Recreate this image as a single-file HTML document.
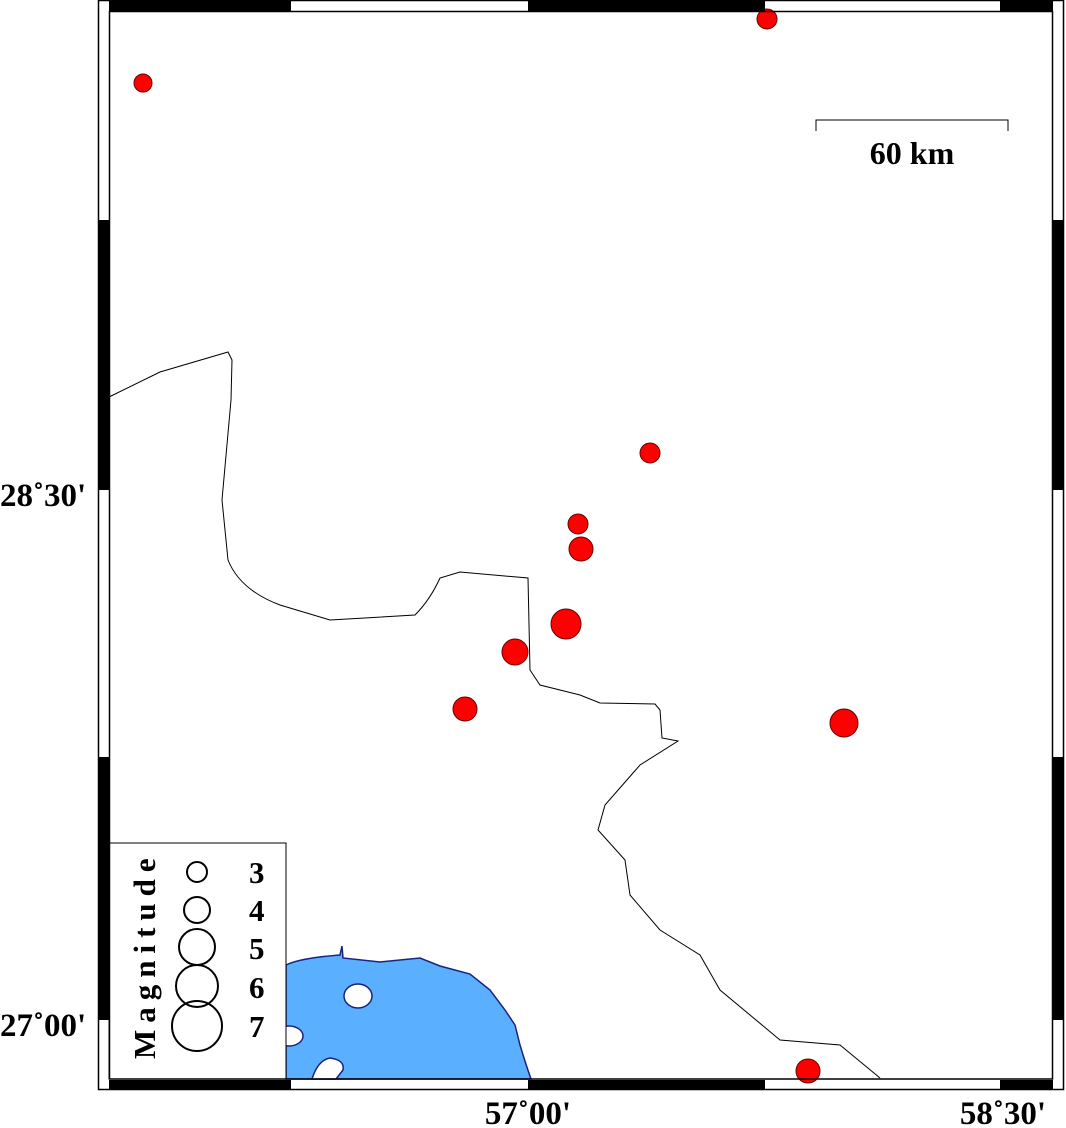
<!DOCTYPE html>
<html><head><meta charset="utf-8"><style>
body{margin:0;background:#fff}
svg{display:block}
text{font-family:"Liberation Serif",serif;font-weight:bold}
</style></head><body>
<svg width="1066" height="1128" viewBox="0 0 1066 1128" xmlns="http://www.w3.org/2000/svg">
<rect width="1066" height="1128" fill="#fff"/>
<path d="M286,965 Q300,958 340,955 L342,946 L343,958 L380,962 L420,958 L440,966 L470,974 L490,990 L505,1010 L515,1025 L520,1045 Q526,1065 531,1079 L286,1079 Z" fill="#5ab0ff" stroke="#1a237e" stroke-width="1.5"/>
<ellipse cx="358" cy="996" rx="14" ry="12" fill="#fff" stroke="#1a237e" stroke-width="1.5"/>
<ellipse cx="289" cy="1036" rx="14" ry="10" fill="#fff" stroke="#1a237e" stroke-width="1.5"/>
<path d="M312,1079 Q318,1060 330,1058 Q345,1060 343,1070 L336,1079 Z" fill="#fff" stroke="#1a237e" stroke-width="1.5"/>
<path d="M109,397 L160,372 L228,352 L232,360 L231,400 L222,500 L228,560 Q240,590 280,605 L330,620 L415,615 Q430,600 440,578 L460,572 L528,578 L530,670 L540,685 L580,695 L600,703 L655,704 L660,710 L662,738 L678,741 L640,765 L605,805 L598,830 L625,860 L630,895 L660,930 L700,955 L720,990 L780,1040 L840,1045 L880,1078" fill="none" stroke="#000" stroke-width="1"/>
<g fill="#f00" stroke="#600" stroke-width="1">
<circle cx="143" cy="83" r="9"/><circle cx="767" cy="19" r="10"/>
<circle cx="650" cy="453" r="10"/><circle cx="578" cy="524" r="10"/>
<circle cx="581" cy="549" r="12"/><circle cx="566" cy="624" r="15"/>
<circle cx="515" cy="652" r="13"/><circle cx="465" cy="709" r="12"/>
<circle cx="844" cy="723" r="14"/><circle cx="808" cy="1071" r="12"/>
</g>
<path d="M816,131 L816,120 L1008,120 L1008,131" fill="none" stroke="#000" stroke-width="1"/>
<text x="912" y="164" font-size="32" text-anchor="middle">60 km</text>
<rect x="109" y="843" width="177" height="236" fill="#fff" stroke="#000" stroke-width="1"/>
<g fill="none" stroke="#000" stroke-width="2">
<circle cx="197" cy="872" r="10"/><circle cx="197" cy="910" r="13"/>
<circle cx="197" cy="947" r="18"/><circle cx="197" cy="986" r="21"/>
<circle cx="197" cy="1026" r="25"/></g>
<g font-size="31"><text x="249" y="883">3</text><text x="249" y="921">4</text><text x="249" y="959">5</text><text x="249" y="998">6</text><text x="249" y="1037">7</text></g>
<text transform="translate(155,1059) rotate(-90)" font-size="31" letter-spacing="7">Magnitude</text>
<rect x="98.5" y="0.5" width="965" height="1089" fill="none" stroke="#000" stroke-width="1.5"/>
<rect x="109.5" y="11.5" width="943" height="1067.5" fill="none" stroke="#000" stroke-width="1.5"/>
<g fill="#000">
<rect x="109" y="1" width="182" height="10"/><rect x="528" y="1" width="237" height="10"/><rect x="1000" y="1" width="53" height="10"/>
<rect x="109" y="1080" width="182" height="10"/><rect x="528" y="1080" width="237" height="10"/><rect x="1000" y="1080" width="53" height="10"/>
<rect x="99" y="220" width="10" height="270"/><rect x="99" y="757" width="10" height="263"/>
<rect x="1053" y="220" width="10" height="270"/><rect x="1053" y="757" width="10" height="263"/>
</g>
<g font-size="33">
<text x="0" y="506">28˚30'</text>
<text x="0" y="1036">27˚00'</text>
<text x="528" y="1124" text-anchor="middle">57˚00'</text>
<text x="1003" y="1124" text-anchor="middle">58˚30'</text>
</g>
</svg>
</body></html>
